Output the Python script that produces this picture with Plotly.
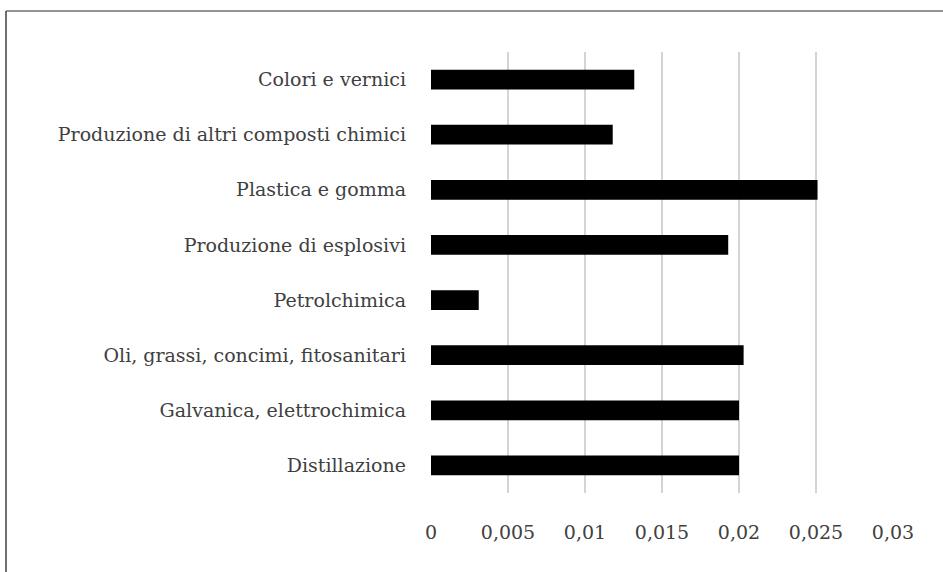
import plotly.graph_objects as go

categories = [
    "Distillazione",
    "Galvanica, elettrochimica",
    "Oli, grassi, concimi, fitosanitari",
    "Petrolchimica",
    "Produzione di esplosivi",
    "Plastica e gomma",
    "Produzione di altri composti chimici",
    "Colori e vernici",
]
values = [0.0200, 0.0200, 0.0203, 0.0031, 0.0193, 0.0251, 0.0118, 0.0132]
tick_vals = [0, 0.005, 0.01, 0.015, 0.02, 0.025, 0.03]
tick_text = ["0", "0,005", "0,01", "0,015", "0,02", "0,025", "0,03"]

W, H = 943, 572
L, R, T, B = 431, 50, 52, 79
pw = W - L - R
ph = H - T - B

def px_to_paper_x(px):
    return (px - L) / pw

def px_to_paper_y(py):
    return (H - B - py) / ph

font_family = "DejaVu Serif"
text_color = "#404040"

fig = go.Figure(
    go.Bar(
        x=values,
        y=categories,
        orientation="h",
        marker=dict(color="#000000", line=dict(width=0)),
        width=0.36,
        hoverinfo="skip",
    )
)

fig.update_layout(
    width=W,
    height=H,
    margin=dict(l=L, r=R, t=T, b=B),
    paper_bgcolor="white",
    plot_bgcolor="white",
    showlegend=False,
    font=dict(family=font_family, size=19, color=text_color),
    xaxis=dict(
        range=[0, 0.03],
        tickvals=tick_vals,
        ticktext=tick_text,
        showgrid=True,
        gridcolor="#d4d4d4",
        gridwidth=1.2,
        zeroline=False,
        showline=False,
        ticks="",
        ticklabelstandoff=26,
        tickfont=dict(family=font_family, size=19, color=text_color),
        fixedrange=True,
    ),
    yaxis=dict(
        categoryorder="array",
        categoryarray=categories,
        range=[-0.5, 7.5],
        showgrid=False,
        zeroline=False,
        showline=False,
        ticks="",
        ticklabelstandoff=24,
        tickfont=dict(family=font_family, size=19, color=text_color),
        fixedrange=True,
    ),
    shapes=[
        dict(type="line", xref="paper", yref="paper",
             x0=px_to_paper_x(6), x1=px_to_paper_x(W + 5),
             y0=px_to_paper_y(11), y1=px_to_paper_y(11),
             line=dict(color="#707070", width=1.5)),
        dict(type="line", xref="paper", yref="paper",
             x0=px_to_paper_x(6), x1=px_to_paper_x(6),
             y0=px_to_paper_y(11), y1=px_to_paper_y(H + 5),
             line=dict(color="#404040", width=1.5)),
    ],
)

fig.write_html(
    "out.html",
    config={"displayModeBar": False, "staticPlot": True},
    post_script="document.body.style.margin='0';document.body.style.padding='0';",
)
